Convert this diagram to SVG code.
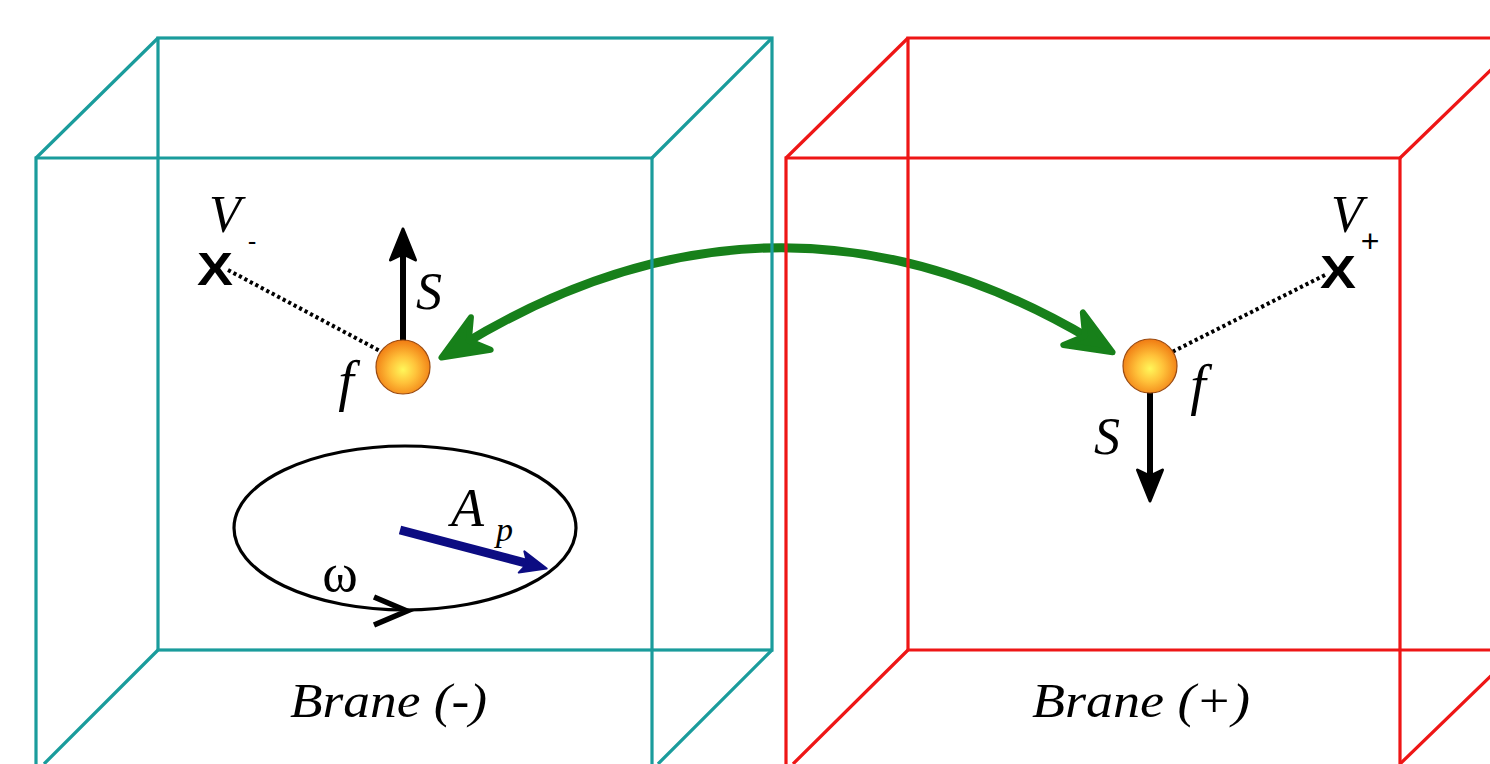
<svg xmlns="http://www.w3.org/2000/svg" width="1490" height="764" viewBox="0 0 1490 764">
<style>
.teal{fill:none;stroke:#1a9c9c;stroke-width:3.2}
.red{fill:none;stroke:#ee1616;stroke-width:3.2}
.math{font-family:"Liberation Serif","Times New Roman","DejaVu Serif",serif;font-style:italic;fill:#000}
.cross{font-family:"Liberation Sans","DejaVu Sans",sans-serif;fill:#000}
.dot{fill:none;stroke:#000;stroke-width:4;stroke-dasharray:3.2 3}
.spin{fill:none;stroke:#000;stroke-width:6}
</style>
<defs>
<marker id="gh" markerUnits="userSpaceOnUse" orient="auto-start-reverse" markerWidth="80" markerHeight="80" refX="0" refY="0" viewBox="-40 -40 80 80" overflow="visible">
<path d="M24,0 L-22,-19 L-8,0 L-22,19 Z" fill="#17801a" stroke="#17801a" stroke-width="6" stroke-linejoin="round"/>
</marker>
<marker id="bh" markerUnits="userSpaceOnUse" orient="auto" markerWidth="40" markerHeight="40" refX="0" refY="0" viewBox="-20 -20 40 40" overflow="visible">
<path d="M26,0 L-5,-12.5 L1,0 L-5,12.5 Z" fill="#000" stroke="#000" stroke-width="3" stroke-linejoin="round"/>
</marker>
<marker id="nh" markerUnits="userSpaceOnUse" orient="auto" markerWidth="40" markerHeight="40" refX="0" refY="0" viewBox="-20 -20 40 40" overflow="visible">
<path d="M10,0 L-16,-11 L-10,0 L-16,11 Z" fill="#0c0c82" stroke="#0c0c82" stroke-width="2" stroke-linejoin="round"/>
</marker>
<radialGradient id="ball" cx="0.5" cy="0.55" r="0.55">
<stop offset="0" stop-color="#fff75a"/>
<stop offset="0.45" stop-color="#ffc23a"/>
<stop offset="1" stop-color="#f07a12"/>
</radialGradient>
</defs>
<rect width="1490" height="764" fill="#fff"/>

<g id="connectors">
<path d="M462,345 Q778,153 1092,340" fill="none" stroke="#17801a" stroke-width="9" marker-start="url(#gh)" marker-end="url(#gh)"/>
<line class="dot" x1="228" y1="270" x2="382" y2="352"/>
<line class="dot" x1="1325" y1="275" x2="1172" y2="352"/>
</g>

<g id="brane-minus">
<rect class="teal" x="158" y="38" width="614" height="612"/>
<path class="teal" d="M36,770 V158 H652 V770"/>
<path class="teal" d="M36,158 L158,38 M652,158 L772,38 M158,650 L44,764 M772,650 L658,764"/>
<text class="math" x="290" y="717" font-size="48" textLength="197" lengthAdjust="spacingAndGlyphs">Brane (-)</text>
</g>

<g id="brane-plus">
<path class="red" d="M1495,38 H908 V650 H1495"/>
<path class="red" d="M786,770 V158 H1400 V770"/>
<path class="red" d="M786,158 L908,38 M1400,158 L1495,66 M908,650 L793,764 M1400,764 L1495,672"/>
<text class="math" x="1032" y="717" font-size="48" textLength="218" lengthAdjust="spacingAndGlyphs">Brane (+)</text>
</g>

<g id="vminus">
<text class="cross" x="215" y="285" font-size="46" font-weight="bold" text-anchor="middle" textLength="36" lengthAdjust="spacingAndGlyphs">X</text>
<text class="math" x="225" y="232" font-size="52" text-anchor="middle">V</text>
<text class="cross" x="252" y="250" font-size="26" text-anchor="middle">-</text>
</g>

<g id="vplus">
<text class="cross" x="1338" y="288" font-size="46" font-weight="bold" text-anchor="middle" textLength="36" lengthAdjust="spacingAndGlyphs">X</text>
<text class="math" x="1347" y="232" font-size="52" text-anchor="middle">V</text>
<text class="cross" x="1370" y="252" font-size="32" text-anchor="middle">+</text>
</g>

<g id="fermion-minus">
<line class="spin" x1="403" y1="342" x2="403" y2="255" marker-end="url(#bh)"/>
<circle cx="403" cy="367" r="27" fill="url(#ball)" stroke="#9a4a10" stroke-width="1.2"/>
<text class="math" x="416" y="309" font-size="52">S</text>
<text class="math" x="346" y="400" font-size="56" text-anchor="middle">f</text>
</g>

<g id="fermion-plus">
<line class="spin" x1="1150" y1="392" x2="1150" y2="475" marker-end="url(#bh)"/>
<circle cx="1150" cy="366" r="27" fill="url(#ball)" stroke="#9a4a10" stroke-width="1.2"/>
<text class="math" x="1094" y="454" font-size="52">S</text>
<text class="math" x="1198" y="404" font-size="56" text-anchor="middle">f</text>
</g>

<g id="orbit">
<ellipse cx="405" cy="528" rx="171" ry="82" fill="none" stroke="#000" stroke-width="3.2"/>
<line x1="400" y1="530" x2="537" y2="566" stroke="#0c0c82" stroke-width="9" marker-end="url(#nh)"/>
<path d="M374,597 L407,611 L374,625" fill="none" stroke="#000" stroke-width="5.5" stroke-linejoin="miter"/>
<text class="math" x="451" y="526" font-size="54">A</text>
<text class="math" x="496" y="541" font-size="34">p</text>
<text x="340" y="591" font-size="54" font-family="Liberation Serif,DejaVu Serif,serif" text-anchor="middle">ω</text>
</g>
</svg>
